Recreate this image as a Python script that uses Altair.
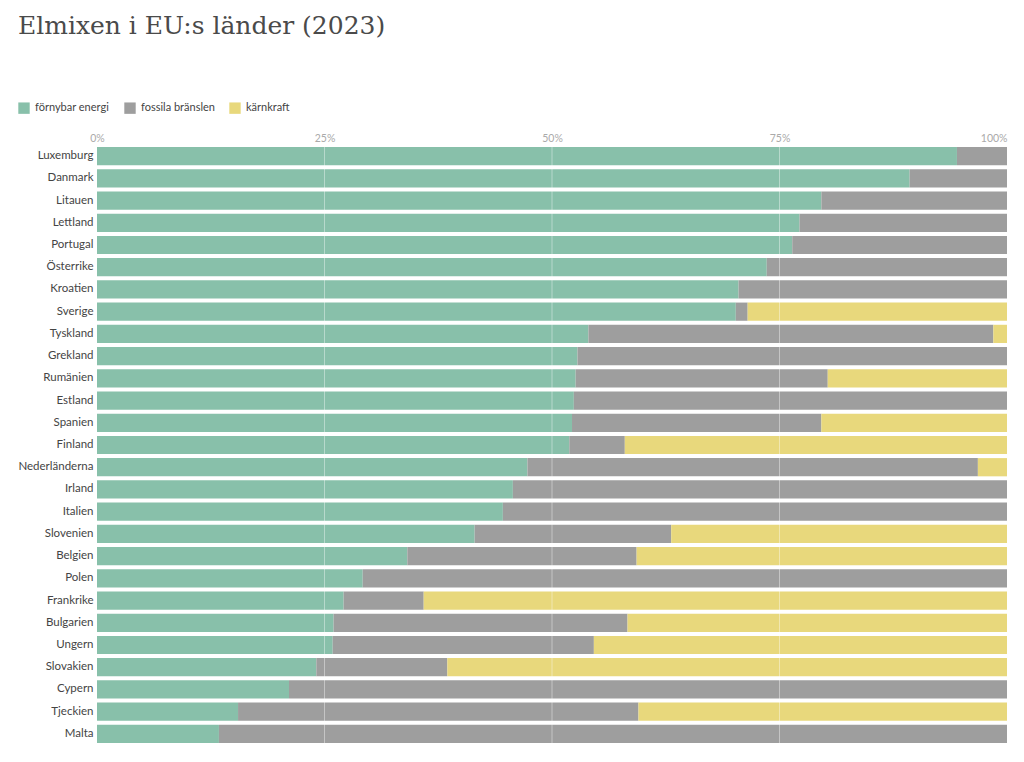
import altair as alt
import pandas as pd

countries = ["Luxemburg", "Danmark", "Litauen", "Lettland", "Portugal", "Österrike",
             "Kroatien", "Sverige", "Tyskland", "Grekland", "Rumänien", "Estland",
             "Spanien", "Finland", "Nederländerna", "Irland", "Italien", "Slovenien",
             "Belgien", "Polen", "Frankrike", "Bulgarien", "Ungern", "Slovakien",
             "Cypern", "Tjeckien", "Malta"]
renewable = [94.5, 89.3, 79.6, 77.2, 76.4, 73.6, 70.5, 70.2, 54.0, 52.8, 52.6, 52.4,
             52.2, 51.9, 47.3, 45.7, 44.6, 41.5, 34.1, 29.2, 27.1, 26.0, 25.9, 24.1,
             21.1, 15.5, 13.4]
fossil = [5.5, 10.7, 20.4, 22.8, 23.6, 26.4, 29.5, 1.3, 44.5, 47.2, 27.7, 47.6,
          27.4, 6.1, 49.5, 54.3, 55.4, 21.6, 25.2, 70.8, 8.8, 32.3, 28.7, 14.4,
          78.9, 44.0, 86.6]
nuclear = [0, 0, 0, 0, 0, 0, 0, 28.5, 1.5, 0, 19.7, 0,
           20.4, 42.0, 3.2, 0, 0, 36.9, 40.7, 0, 64.1, 41.7, 45.4, 61.5,
           0, 40.5, 0]
sources = ["förnybar energi", "fossila bränslen", "kärnkraft"]
colors = ["#88c0aa", "#9e9e9e", "#e8d87c"]
grid_values = [0.25, 0.5, 0.75]

rows = []
for i, c in enumerate(countries):
    for k, (s, vals) in enumerate(zip(sources, [renewable, fossil, nuclear])):
        rows.append({"land": c, "källa": s, "andel": vals[i], "ordning": k})
df = pd.DataFrame(rows)

label_font = "Lato"

bars = alt.Chart(df).mark_bar().encode(
    y=alt.Y("land:N", sort=countries, title=None,
            scale=alt.Scale(paddingInner=0.18, paddingOuter=0),
            axis=alt.Axis(ticks=False, domain=False, labelPadding=4,
                          labelFont=label_font, labelFontSize=11.5,
                          labelColor="#444444", minExtent=79, maxExtent=79)),
    x=alt.X("andel:Q", stack="normalize", title=None,
            scale=alt.Scale(domain=[0, 1]),
            axis=alt.Axis(orient="top", format="%", values=[0, 0.25, 0.5, 0.75, 1],
                          ticks=False, domain=False, grid=False, labelPadding=4,
                          labelFont=label_font, labelFontSize=10.5,
                          labelColor="#aaaaaa",
                          labelAlign=alt.expr("datum.value == 1 ? 'right' : 'center'"))),
    color=alt.Color("källa:N", sort=sources,
                    scale=alt.Scale(domain=sources, range=colors),
                    legend=alt.Legend(title=None, orient="none", direction="horizontal",
                                      legendX=-79, legendY=-45, symbolType="square",
                                      symbolSize=130, symbolStrokeWidth=0,
                                      labelFont=label_font, labelFontSize=11,
                                      labelColor="#444444", labelOffset=5,
                                      columnPadding=14)),
    order=alt.Order("ordning:Q"),
)

grid = alt.Chart(pd.DataFrame({"v": grid_values})).mark_rule(
    color="white", opacity=0.4, strokeWidth=1
).encode(x=alt.X("v:Q"))

chart = alt.layer(bars, grid).properties(
    width=910, height=596,
    padding={"left": 9, "top": 6, "right": 5, "bottom": 5},
    title=alt.TitleParams("Elmixen i EU:s länder (2023)", anchor="start",
                          font="DejaVu Serif", fontSize=25, fontWeight="normal",
                          color="#4a4a4a", offset=63),
    background="white",
).configure_view(stroke=None)

chart.save("out.html", embed_options={"renderer": "svg", "actions": False})
